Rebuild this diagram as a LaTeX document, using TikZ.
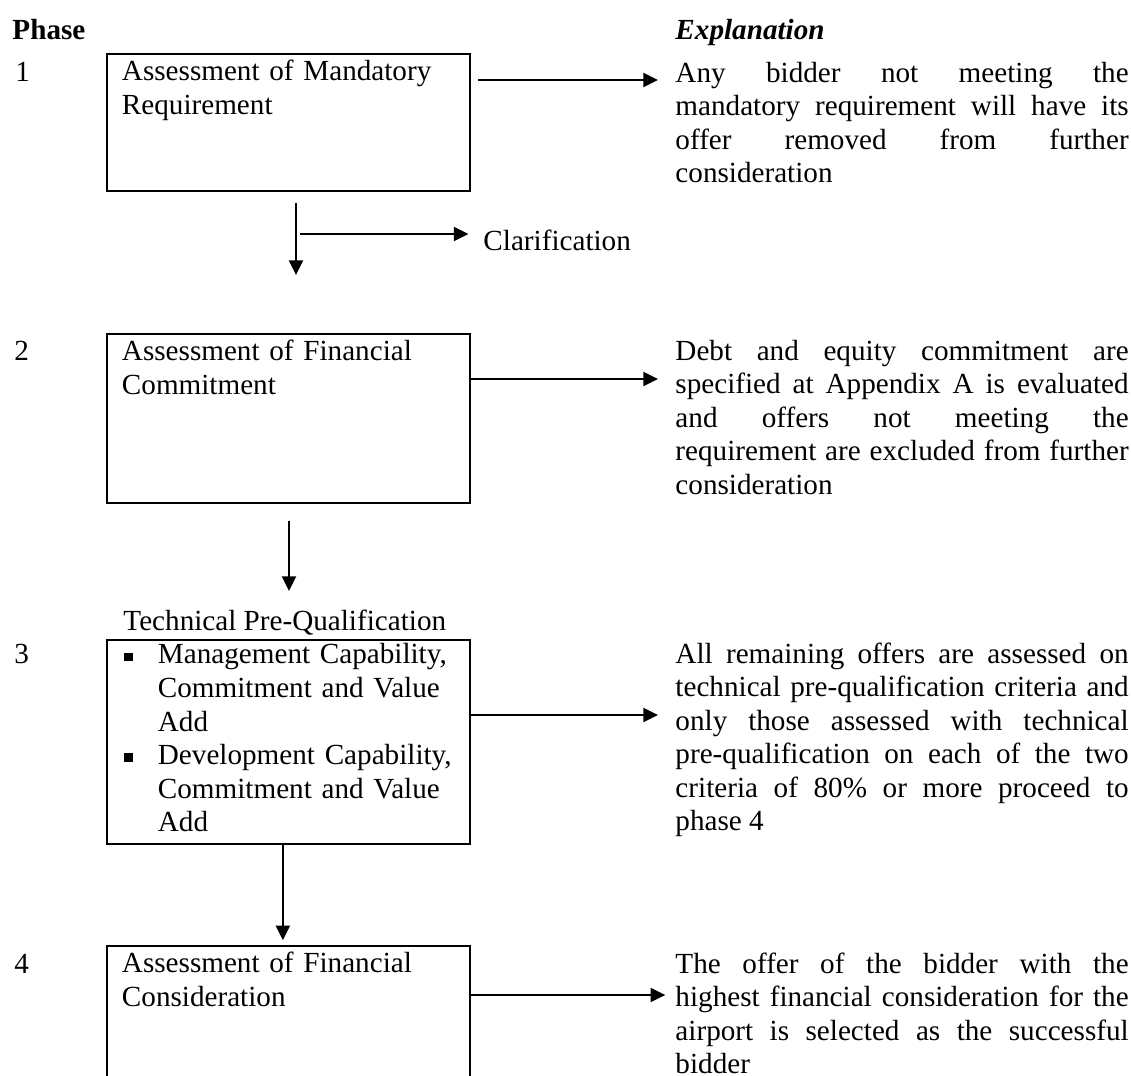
\documentclass[tikz,border=0pt,12pt]{standalone}
\usepackage{fontspec}
\setmainfont{Liberation Serif}
\linespread{0.952}
\usetikzlibrary{arrows.meta, positioning}
\newcommand{\sqbullet}{\rule[1.1pt]{3.6pt}{3.6pt}}
\tolerance=10000

\begin{document}
\begin{tikzpicture}[
    x=0.4115pt, y=-0.4115pt,
    stage/.style={draw, line width=0.75pt, anchor=north west, text width=137pt,
                  inner xsep=6.2pt, inner ysep=0pt, align=left, text height=11.1pt},
    note/.style={anchor=base west, text width=186.5pt, inner sep=0pt, align=justify},
    phasetag/.style={anchor=base west, inner sep=0pt},
    flow/.style={-{Triangle[length=6pt, width=5.8pt]}, line width=0.65pt}
]
    \useasboundingbox (0,0) rectangle (1131,1076);
    \clip (0,0) rectangle (1131,1076);

    % column heads
    \node[phasetag, font=\bfseries] (phase) at (12,39) {Phase};
    \node[phasetag, font=\bfseries\itshape] (expl) at (675,39) {Explanation};

    % phase 1
    \node[phasetag] (p1) at (15,81) {1};
    \node[stage, text depth=45.3pt] (b1) at (106,53) {Assessment of Mandatory\\Requirement};
    \node[note] (n1) at (675,82) {Any bidder not meeting the\linebreak mandatory requirement will have its\linebreak offer removed from further\linebreak consideration};
    \draw[flow, shorten <=3pt, shorten >=7pt] (b1.east |- 0,80) -- (n1.west |- 0,80);

    \node[phasetag] (clar) at (483,250) {Clarification};
    \coordinate (c1) at (296,203);
    \coordinate (c2) at (296,275);
    \coordinate (c3) at (300,234);
    \draw[flow] (c1) -- (c2);
    \draw[flow, shorten >=6pt] (c3) -- (clar.west |- c3);

    % phase 2
    \node[phasetag] (p2) at (14,360) {2};
    \node[stage, text depth=58.4pt] (b2) at (106,333) {Assessment of Financial\\Commitment};
    \node[note] (n2) at (675,360) {Debt and equity commitment are\linebreak specified at Appendix A is evaluated\linebreak and offers not meeting the\linebreak requirement are excluded from further\linebreak consideration};
    \draw[flow, shorten >=7pt] (b2.east |- 0,379) -- (n2.west |- 0,379);

    \coordinate (d2) at (289,591);
    \draw[flow, shorten <=7pt] (b2.south -| d2) -- (d2);

    % phase 3
    \node[phasetag] (tpq) at (123,630) {Technical Pre-Qualification};
    \node[phasetag] (p3) at (14,663) {3};
    \node[stage, text height=9.9pt, text depth=74.1pt, inner xsep=7pt, text width=135.4pt] (b3) at (106,639)
        {\begin{tabular}[t]{@{}p{14pt}@{}l@{}}
            \sqbullet & Management Capability,\\
                      & Commitment and Value\\
                      & Add\\
            \sqbullet & Development Capability,\\
                      & Commitment and Value\\
                      & Add
         \end{tabular}};
    \node[note] (n3) at (675,663) {All remaining offers are assessed on\linebreak technical pre-qualification criteria and\linebreak only those assessed with technical\linebreak pre-qualification on each of the two\linebreak criteria of 80\% or more proceed to\linebreak phase 4};
    \draw[flow, shorten >=7pt] (b3.east |- 0,715) -- (n3.west |- 0,715);

    % phase 4
    \node[phasetag] (p4) at (14,973) {4};
    \node[stage, text depth=52.7pt] (b4) at (106,945) {Assessment of Financial\\Consideration};
    \node[note] (n4) at (675,973) {The offer of the bidder with the\linebreak highest financial consideration for the\linebreak airport is selected as the successful\linebreak bidder};
    \draw[flow, shorten >=4pt] (b4.east |- 0,995) -- (n4.west |- 0,995);

    \draw[flow, shorten >=2pt] ([xshift=-2.3pt]b3.south) -- ([xshift=-2.3pt]b4.north);
\end{tikzpicture}
\end{document}
